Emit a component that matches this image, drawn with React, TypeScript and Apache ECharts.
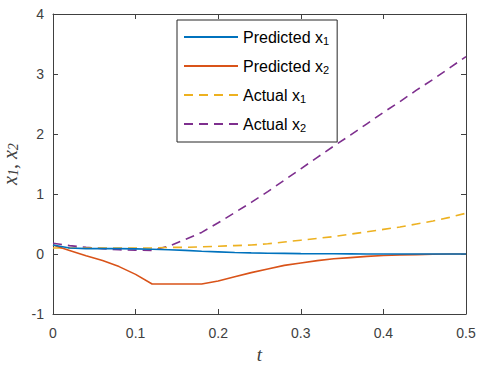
import React, { useEffect, useRef } from "react";
import * as echarts from "echarts";

const T = [0, 0.02, 0.04, 0.06, 0.08, 0.1, 0.12, 0.14, 0.16, 0.18, 0.2, 0.22, 0.24, 0.26, 0.28, 0.3, 0.32, 0.34, 0.36, 0.38, 0.4, 0.42, 0.44, 0.46, 0.48, 0.5];
const predictedX1 = [0.15, 0.1, 0.09, 0.09, 0.09, 0.085, 0.08, 0.07, 0.06, 0.045, 0.035, 0.025, 0.018, 0.013, 0.01, 0.007, 0.005, 0.003, 0.002, 0.001, 0, 0, 0, 0, 0, 0];
const predictedX2 = [0.15, 0.06, -0.03, -0.11, -0.21, -0.34, -0.5, -0.5, -0.5, -0.5, -0.45, -0.38, -0.31, -0.25, -0.19, -0.15, -0.11, -0.08, -0.06, -0.04, -0.025, -0.015, -0.01, -0.005, 0, 0];
const actualX1 = [0.1, 0.1, 0.1, 0.1, 0.1, 0.1, 0.1, 0.11, 0.11, 0.12, 0.13, 0.14, 0.15, 0.17, 0.2, 0.23, 0.26, 0.29, 0.33, 0.37, 0.41, 0.45, 0.5, 0.55, 0.61, 0.68];
const actualX2 = [0.18, 0.14, 0.11, 0.09, 0.07, 0.065, 0.06, 0.13, 0.24, 0.36, 0.52, 0.69, 0.86, 1.04, 1.23, 1.42, 1.61, 1.8, 1.98, 2.17, 2.36, 2.54, 2.73, 2.91, 3.1, 3.29];

const seriesNames = ["Predicted x1", "Predicted x2", "Actual x1", "Actual x2"];
const legendLabels: Record<string, string> = {
  "Predicted x1": "Predicted x{s|1}",
  "Predicted x2": "Predicted x{s|2}",
  "Actual x1": "Actual x{s|1}",
  "Actual x2": "Actual x{s|2}",
};
const colors = ["#0072BD", "#D95319", "#EDB120", "#7E2F8E"];
const dashed = [false, false, true, true];
const seriesValues = [predictedX1, predictedX2, actualX1, actualX2];

const AXIS = "#404040";
const SANS = "Liberation Sans, Arial, sans-serif";
const SERIF = "Liberation Serif, serif";

export default function App() {
  const ref = useRef<HTMLDivElement>(null);
  useEffect(() => {
    if (!ref.current) return;
    const chart = echarts.init(ref.current, null, { renderer: "svg" });
    const axisCommon = {
      axisLine: { show: true, onZero: false, lineStyle: { color: AXIS, width: 1 } },
      axisTick: { show: true, inside: true, length: 5, lineStyle: { color: AXIS } },
      splitLine: { show: false },
    };
    chart.setOption({
      animation: false,
      backgroundColor: "#ffffff",
      grid: { left: 53, right: 13, top: 14, bottom: 51, containLabel: false, outerBoundsMode: "none" },
      legend: {
        orient: "vertical",
        left: 177,
        top: 20,
        itemWidth: 54,
        itemHeight: 14,
        itemGap: 11,
        padding: [8, 8, 9, 6],
        backgroundColor: "#ffffff",
        borderColor: "#262626",
        borderWidth: 1,
        borderRadius: 0,
        itemStyle: { opacity: 0 },
        data: seriesNames,
        formatter: (name: string) => legendLabels[name],
        textStyle: {
          fontFamily: SANS,
          fontSize: 16,
          color: "#000",
          lineHeight: 18,
          rich: {
            s: { fontSize: 11, verticalAlign: "bottom", lineHeight: 10, fontFamily: SANS, color: "#000" },
          },
        },
      },
      xAxis: [
        {
          type: "value",
          min: 0,
          max: 0.5,
          interval: 0.1,
          position: "bottom",
          ...axisCommon,
          axisLabel: { color: AXIS, fontSize: 14, margin: 12, fontFamily: SANS },
          name: "t",
          nameLocation: "middle",
          nameGap: 31,
          nameTextStyle: { fontFamily: SERIF, fontStyle: "italic", fontSize: 19, color: AXIS },
        },
        {
          type: "value",
          min: 0,
          max: 0.5,
          interval: 0.1,
          position: "top",
          ...axisCommon,
          axisLabel: { show: false },
        },
      ],
      yAxis: [
        {
          type: "value",
          min: -1,
          max: 4,
          interval: 1,
          position: "left",
          ...axisCommon,
          axisLabel: { color: AXIS, fontSize: 14, margin: 9, fontFamily: SANS },
          name: "x{s|1}, x{s|2}",
          nameLocation: "middle",
          nameGap: 29,
          nameTextStyle: {
            fontFamily: SERIF,
            fontStyle: "italic",
            fontSize: 20,
            color: AXIS,
            lineHeight: 22,
            rich: {
              s: { fontFamily: SERIF, fontSize: 14, verticalAlign: "bottom", lineHeight: 12, color: AXIS },
            },
          },
        },
        {
          type: "value",
          min: -1,
          max: 4,
          interval: 1,
          position: "right",
          ...axisCommon,
          axisLabel: { show: false },
        },
      ],
      series: seriesNames.map((name, i) => ({
        name,
        type: "line",
        xAxisIndex: 0,
        yAxisIndex: 0,
        symbol: "none",
        smooth: false,
        data: T.map((t, k) => [t, seriesValues[i][k]]),
        lineStyle: { color: colors[i], width: 1.6, type: dashed[i] ? [9, 6] : "solid" },
        itemStyle: { color: colors[i] },
        z: 3 + (3 - i),
      })),
    });
    return () => chart.dispose();
  }, []);
  return <div ref={ref} style={{ position: "absolute", left: 0, top: 0, width: 479, height: 365 }} />;
}
